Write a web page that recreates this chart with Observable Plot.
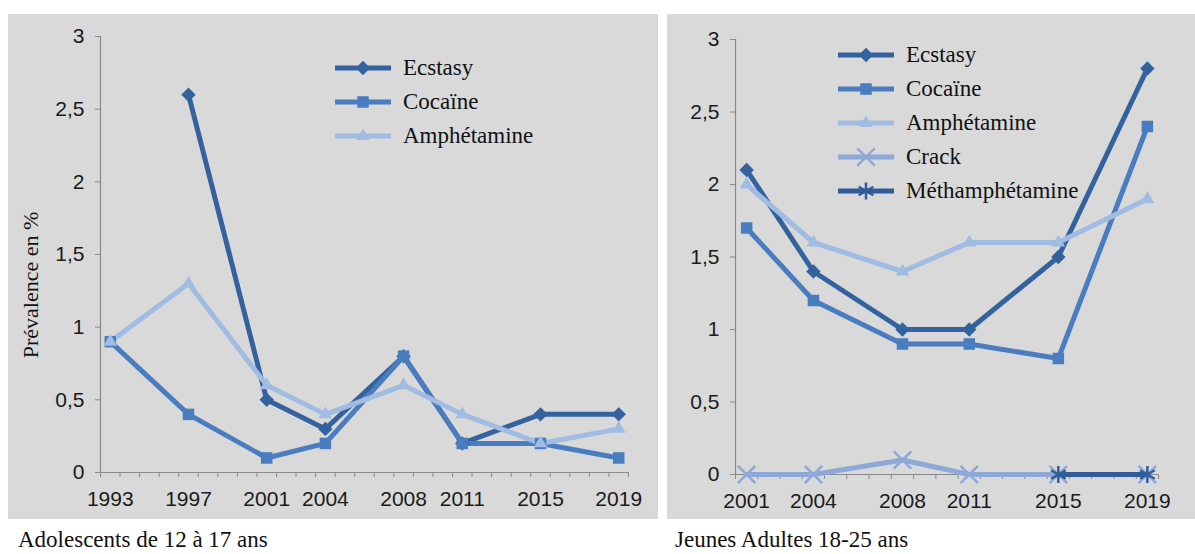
<!DOCTYPE html>
<html>
<head>
<meta charset="utf-8">
<script src="https://cdn.jsdelivr.net/npm/d3@7"></script>
<script src="https://cdn.jsdelivr.net/npm/@observablehq/plot@0.6"></script>
<style>
  html, body { margin: 0; padding: 0; background: #fff; }
  #wrap { position: relative; width: 1195px; height: 554px; overflow: hidden; background: #fff; }
  .panel { position: absolute; top: 14px; }
  .caption { position: absolute; font-family: "Liberation Serif", "Times New Roman", serif; font-size: 23px; color: #111; white-space: nowrap; line-height: 1.1; }
  .legend { position: absolute; font-family: "Liberation Serif", "Times New Roman", serif; font-size: 23px; color: #111; }
  .legend .row { display: flex; align-items: center; height: 34px; white-space: nowrap; }
  .legend svg { margin-right: 12px; overflow: visible; }
  .ylabel { position: absolute; font-family: "Liberation Serif", "Times New Roman", serif; font-size: 22px; color: #111; white-space: nowrap; line-height: 1; transform: translate(-50%, -50%) rotate(-90deg); }
</style>
</head>
<body>
<div id="wrap"></div>
<script>
// ---------- Data ----------
const seriesNames = ["Ecstasy", "Cocaïne", "Amphétamine", "Crack", "Méthamphétamine"];
const seriesColors = ["#33629f", "#4a7dc0", "#a0bce2", "#8ea8d8", "#325c99"];
const seriesSymbols = ["diamond2", "square", "triangle2", "times", "asterisk"];

// Adolescents de 12 à 17 ans
const adoYears = [1993, 1997, 2001, 2004, 2008, 2011, 2015, 2019];
const adoEcstasy = [null, 2.6, 0.5, 0.3, 0.8, 0.2, 0.4, 0.4];
const adoCocaine = [0.9, 0.4, 0.1, 0.2, 0.8, 0.2, 0.2, 0.1];
const adoAmphetamine = [0.9, 1.3, 0.6, 0.4, 0.6, 0.4, 0.2, 0.3];

// Jeunes Adultes 18-25 ans
const jaYears = [2001, 2004, 2008, 2011, 2015, 2019];
const jaEcstasy = [2.1, 1.4, 1.0, 1.0, 1.5, 2.8];
const jaCocaine = [1.7, 1.2, 0.9, 0.9, 0.8, 2.4];
const jaAmphetamine = [2.0, 1.6, 1.4, 1.6, 1.6, 1.9];
const jaCrack = [0, 0, 0.1, 0, 0, 0];
const jaMeth = [null, null, null, null, 0, 0];

const yTicks = [0, 0.5, 1, 1.5, 2, 2.5, 3];
const yLabel = "Prévalence en %";
const captionAdo = "Adolescents de 12 à 17 ans";
const captionJA = "Jeunes Adultes 18-25 ans";

// ---------- Helpers ----------
function tidy(years, seriesArrays) {
  const rows = [];
  seriesArrays.forEach(([name, vals]) => {
    vals.forEach((v, i) => { if (v != null) rows.push({ series: name, year: years[i], value: v }); });
  });
  return rows;
}
const fmtComma = d => String(d).replace(".", ",");
const SANS = "'Liberation Sans', Arial, sans-serif";
const AXIS = "#8a8a8a";
const BG = "#d9d9d9";

function makePanel({ years, rows, width, height, ml, mr, mt, mb }) {
  const x0 = years[0] - 0.5, x1 = years[years.length - 1] + 0.5;
  const minor = d3.range(x0, x1 + 0.01, 1);
  const strokeSeries = ["Crack", "Méthamphétamine"];
  const filledRows = rows.filter(d => !strokeSeries.includes(d.series));
  const strokeRows = rows.filter(d => strokeSeries.includes(d.series));
  return Plot.plot({
    width, height,
    marginLeft: ml, marginRight: mr, marginTop: mt, marginBottom: mb,
    style: { background: BG, overflow: "visible" },
    x: { domain: [x0, x1], axis: null, label: null },
    y: { domain: [0, 3], axis: null, label: null },
    color: { domain: seriesNames, range: seriesColors },
    symbol: { domain: seriesNames, range: seriesSymbols },
    marks: [
      Plot.ruleX([x0], { y1: 0, y2: 3, stroke: AXIS, strokeWidth: 1.2 }),
      Plot.ruleY([0], { stroke: AXIS, strokeWidth: 1.2 }),
      Plot.axisX({ ticks: minor, tickSize: 5, tickFormat: () => "", stroke: AXIS, label: null }),
      Plot.axisX({ ticks: years, tickSize: 0, tickPadding: 19, tickFormat: d => String(d), fontSize: 21, fontFamily: SANS, fill: "#1a1a1a", label: null }),
      Plot.axisY({ ticks: yTicks, tickSize: 5, tickPadding: 11, tickFormat: fmtComma, fontSize: 21, fontFamily: SANS, fill: "#1a1a1a", stroke: AXIS, label: null }),
      Plot.line(rows, { x: "year", y: "value", z: "series", stroke: "series", strokeWidth: 5, strokeLinejoin: "round" }),
      Plot.dot(filledRows, { x: "year", y: "value", symbol: "series", fill: "series", r: 6.5 }),
      Plot.dot(strokeRows, { x: "year", y: "value", symbol: "series", stroke: "series", strokeWidth: 2.5, r: 8 })
    ]
  });
}

function makeLegend(names, left, top) {
  const div = document.createElement("div");
  div.className = "legend";
  div.style.left = left + "px";
  div.style.top = top + "px";
  const symMap = { diamond2: d3.symbolDiamond2, square: d3.symbolSquare, triangle2: d3.symbolTriangle2, times: d3.symbolTimes, asterisk: d3.symbolAsterisk };
  names.forEach(name => {
    const i = seriesNames.indexOf(name);
    const color = seriesColors[i];
    const row = document.createElement("div");
    row.className = "row";
    const svg = d3.create("svg").attr("width", 56).attr("height", 16);
    svg.append("line").attr("x1", 0).attr("x2", 56).attr("y1", 8).attr("y2", 8)
      .attr("stroke", color).attr("stroke-width", 5);
    const s = seriesSymbols[i];
    const filled = ["diamond2", "square", "triangle2"].includes(s);
    const area = Math.PI * (filled ? 6.5 : 8) ** 2;
    svg.append("path").attr("transform", "translate(28,8)")
      .attr("d", d3.symbol(symMap[s], area)())
      .attr("fill", filled ? color : "none")
      .attr("stroke", filled ? "none" : color)
      .attr("stroke-width", 2.5);
    row.appendChild(svg.node());
    const span = document.createElement("span");
    span.textContent = name;
    row.appendChild(span);
    div.appendChild(row);
  });
  return div;
}

// ---------- Build ----------
const wrap = document.getElementById("wrap");

const adoRows = tidy(adoYears, [["Ecstasy", adoEcstasy], ["Cocaïne", adoCocaine], ["Amphétamine", adoAmphetamine]]);
const jaRows = tidy(jaYears, [["Ecstasy", jaEcstasy], ["Cocaïne", jaCocaine], ["Amphétamine", jaAmphetamine], ["Crack", jaCrack], ["Méthamphétamine", jaMeth]]);

const left = document.createElement("div");
left.className = "panel"; left.style.left = "8px";
left.appendChild(makePanel({ years: adoYears, rows: adoRows, width: 650, height: 505, ml: 92, mr: 30, mt: 22, mb: 47 }));
wrap.appendChild(left);

const right = document.createElement("div");
right.className = "panel"; right.style.left = "667px";
right.appendChild(makePanel({ years: jaYears, rows: jaRows, width: 528, height: 505, ml: 68, mr: 37, mt: 25, mb: 45 }));
wrap.appendChild(right);

const yl = document.createElement("div");
yl.className = "ylabel"; yl.style.left = "31px"; yl.style.top = "285px"; yl.textContent = yLabel;
wrap.appendChild(yl);

wrap.appendChild(makeLegend(["Ecstasy", "Cocaïne", "Amphétamine"], 335, 51));
wrap.appendChild(makeLegend(["Ecstasy", "Cocaïne", "Amphétamine", "Crack", "Méthamphétamine"], 838, 38));

const c1 = document.createElement("div");
c1.className = "caption"; c1.style.left = "18px"; c1.style.top = "527px"; c1.textContent = captionAdo;
wrap.appendChild(c1);
const c2 = document.createElement("div");
c2.className = "caption"; c2.style.left = "675px"; c2.style.top = "527px"; c2.textContent = captionJA;
wrap.appendChild(c2);
</script>
</body>
</html>
